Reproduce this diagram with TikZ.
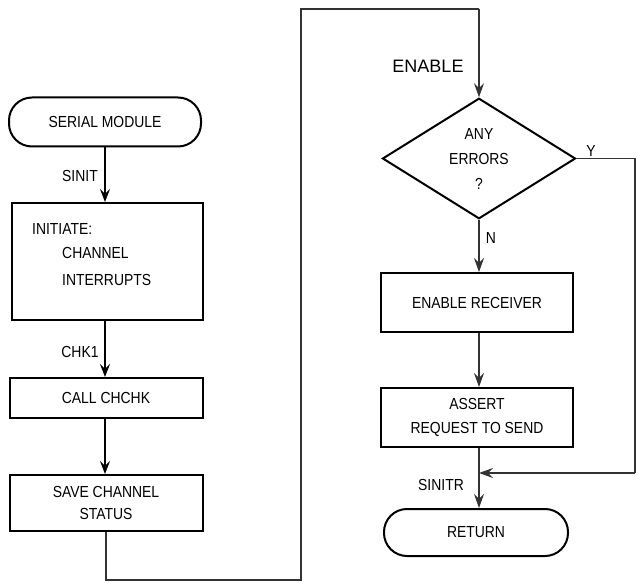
\documentclass[tikz,border=0pt]{standalone}
\usepackage{fontspec}
\setmainfont{Liberation Sans}[FakeStretch=0.87]
\newfontfamily\widefont{Liberation Sans}
\usetikzlibrary{shapes.geometric,arrows.meta}
\begin{document}
\begin{tikzpicture}[x=1pt,y=-1pt,
  every node/.style={font=\fontsize{16}{25}\selectfont},
  boxn/.style={draw,line width=2pt,inner sep=0pt,align=center},
  term/.style={boxn,rounded corners=23pt},
  thickarr/.style={line width=2pt,-{Stealth[length=13pt,width=10pt,inset=5pt]}},
  thinarr/.style={line width=1.2pt,draw=black!80,-{Stealth[length=14pt,width=10pt,inset=5pt]}},
  thinline/.style={line width=1.2pt,draw=black!80},
  lbl/.style={inner sep=0pt}]
\useasboundingbox (0,0) rectangle (638,583);
% left column
\node[term,minimum width=192pt,minimum height=49pt] (sm) at (105,122) {SERIAL MODULE};
\node[boxn,minimum width=191pt,minimum height=117pt] (init) at (107,261.5) {};
\node[lbl,anchor=west] (t1) at (32,229) {INITIATE:};
\node[lbl,anchor=west,align=left,font=\fontsize{16}{27}\selectfont] (t2) at (62,266) {CHANNEL\\INTERRUPTS};
\node[boxn,minimum width=193pt,minimum height=40pt] (call) at (106,398) {CALL CHCHK};
\node[boxn,minimum width=193pt,minimum height=56pt,font=\fontsize{16}{22}\selectfont] (save) at (106,503) {SAVE CHANNEL\\STATUS};
\node[lbl] (l1) at (80,176) {SINIT};
\node[lbl] (l2) at (80,352) {CHK1};
\draw[thickarr] (sm.south) -- (sm.south |- init.north);
\draw[thickarr] (init.south -| sm.south) -- (sm.south |- call.north);
\draw[thickarr] (call.south -| sm.south) -- (sm.south |- save.north);
% right column
\node[diamond,draw,line width=2pt,minimum width=193pt,minimum height=117pt,inner sep=0pt,align=center] (dia) at (479,158.5) {ANY\\ERRORS\\?};
\node[boxn,minimum width=192pt,minimum height=59pt] (recv) at (477,302.5) {ENABLE RECEIVER};
\node[boxn,minimum width=192pt,minimum height=59pt,font=\fontsize{16}{24}\selectfont] (asrt) at (477,417.5) {ASSERT\\REQUEST TO SEND};
\node[term,minimum width=184pt,minimum height=47pt] (ret) at (476,532.5) {RETURN};
\node[lbl,font=\widefont\fontsize{18}{20}\selectfont] (en) at (428,66) {ENABLE};
\node[lbl] (ny) at (591,151) {Y};
\node[lbl] (nn) at (491,238) {N};
\node[lbl] (sr) at (441,485) {SINITR};
\coordinate (c1) at (106,580);
\coordinate (c2) at (301,580);
\coordinate (c3) at (301,9);
\coordinate (c4) at (479,9);
\coordinate (j) at (479,473);
\coordinate (y1) at (635,158.5);
\coordinate (y2) at (635,473);
\draw[thinline] (save.south) -- (c1) -- (c2) -- (c3) -- (c4);
\draw[thinarr] (c4) -- (dia.north);
\draw[thinarr] (dia.south) -- (dia.south |- recv.north);
\draw[thinarr] (dia.south |- recv.south) -- (dia.south |- asrt.north);
\draw[thinline] (dia.south |- asrt.south) -- (j);
\draw[thinarr] (j) -- (j |- ret.north);
\draw[thinline] (dia.east) -- (y1) -- (y2);
\draw[thinarr] (y2) -- (j);
\end{tikzpicture}
\end{document}
